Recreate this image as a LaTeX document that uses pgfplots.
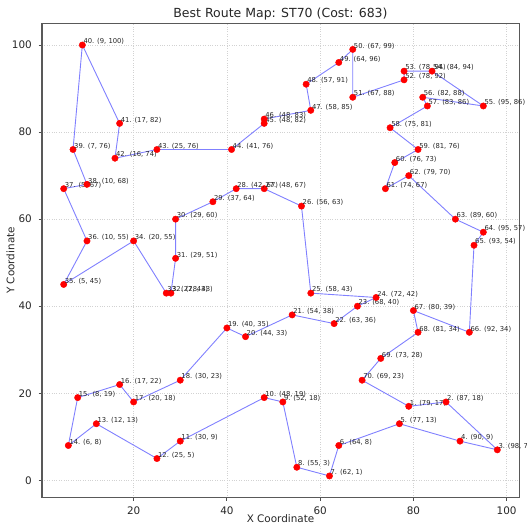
\documentclass[border=0pt]{standalone}
\usepackage{pgfplots}
\pgfplotsset{compat=1.18}
\usepackage{pgfplotstable}
\usepackage{fontspec}
\setmainfont{DejaVu Sans}
\pgfplotstableread[col sep=semicolon]{
x;y;label
79;17;1. (79, 17)
87;18;2. (87, 18)
98;7;3. (98, 7)
90;9;4. (90, 9)
77;13;5. (77, 13)
64;8;6. (64, 8)
62;1;7. (62, 1)
55;3;8. (55, 3)
52;18;9. (52, 18)
48;19;10. (48, 19)
30;9;11. (30, 9)
25;5;12. (25, 5)
12;13;13. (12, 13)
6;8;14. (6, 8)
8;19;15. (8, 19)
17;22;16. (17, 22)
20;18;17. (20, 18)
30;23;18. (30, 23)
40;35;19. (40, 35)
44;33;20. (44, 33)
54;38;21. (54, 38)
63;36;22. (63, 36)
68;40;23. (68, 40)
72;42;24. (72, 42)
58;43;25. (58, 43)
56;63;26. (56, 63)
48;67;27. (48, 67)
42;67;28. (42, 67)
37;64;29. (37, 64)
29;60;30. (29, 60)
29;51;31. (29, 51)
28;43;32. (28, 43)
27;43;33. (27, 43)
20;55;34. (20, 55)
5;45;35. (5, 45)
10;55;36. (10, 55)
5;67;37. (5, 67)
10;68;38. (10, 68)
7;76;39. (7, 76)
9;100;40. (9, 100)
17;82;41. (17, 82)
16;74;42. (16, 74)
25;76;43. (25, 76)
41;76;44. (41, 76)
48;82;45. (48, 82)
48;83;46. (48, 83)
58;85;47. (58, 85)
57;91;48. (57, 91)
64;96;49. (64, 96)
67;99;50. (67, 99)
67;88;51. (67, 88)
78;92;52. (78, 92)
78;94;53. (78, 94)
84;94;54. (84, 94)
95;86;55. (95, 86)
82;88;56. (82, 88)
83;86;57. (83, 86)
75;81;58. (75, 81)
81;76;59. (81, 76)
76;73;60. (76, 73)
74;67;61. (74, 67)
79;70;62. (79, 70)
89;60;63. (89, 60)
95;57;64. (95, 57)
93;54;65. (93, 54)
92;34;66. (92, 34)
80;39;67. (80, 39)
81;34;68. (81, 34)
73;28;69. (73, 28)
69;23;70. (69, 23)
}\route
\begin{document}
\begin{tikzpicture}
\begin{axis}[
  scale only axis,
  width=477pt, height=474pt,
  xmin=0.35, xmax=102.65, ymin=-3.95, ymax=104.95,
  xtick={0,20,...,100}, ytick={0,20,...,100},
  xtick pos=bottom, ytick pos=left,
  tick align=outside, major tick length=3.5pt,
  every tick/.style={black!70, line width=0.8pt},
  axis line style={black!65, line width=1pt},
  grid=major,
  major grid style={gray!35, dotted, line width=0.6pt},
  /pgf/number format/assume math mode=true,
  tick label style={font=\fontsize{10.4}{12}\selectfont, text=black!85},
  xticklabel style={anchor=base, inner sep=0pt, yshift=-13.5pt},
  yticklabel style={anchor=east, inner sep=0pt, xshift=-6.5pt},
  xlabel={X Coordinate}, ylabel={Y Coordinate},
  label style={font=\fontsize{10.4}{12}\selectfont, text=black!85},
  xlabel style={at={(axis description cs:0.5,-0.0527)}, anchor=base, inner sep=0pt},
  ylabel style={at={(axis description cs:-0.0577,0.5)}, anchor=base, inner sep=0pt},
  title={Best Route Map: ST70 (Cost: 683)},
  title style={font=\fontsize{12.5}{15}\selectfont, text=black!85, at={(axis description cs:0.5,1)}, anchor=base, inner sep=0pt, yshift=-0.5pt},
]
\addplot[color=blue!50, line width=0.9pt, mark=none] table[x=x,y=y] {\route};
\addplot[color=blue!50, line width=0.9pt, mark=none] coordinates {(69,23) (79,17)};
\addplot[only marks, mark=*, mark size=3.2pt, color=red, fill=red,
  point meta=explicit symbolic,
  nodes near coords,
  every node near coord/.style={anchor=base west, inner sep=0pt, xshift=1pt, yshift=1.3pt, text=black!85, font=\fontsize{6.8}{8}\selectfont},
] table[x=x,y=y,meta=label] {\route};
\end{axis}
\pgfresetboundingbox
\path ([xshift=-42pt,yshift=-29pt]current axis.south west) rectangle ([xshift=8pt,yshift=23.5pt]current axis.north east);
\end{tikzpicture}
\end{document}
